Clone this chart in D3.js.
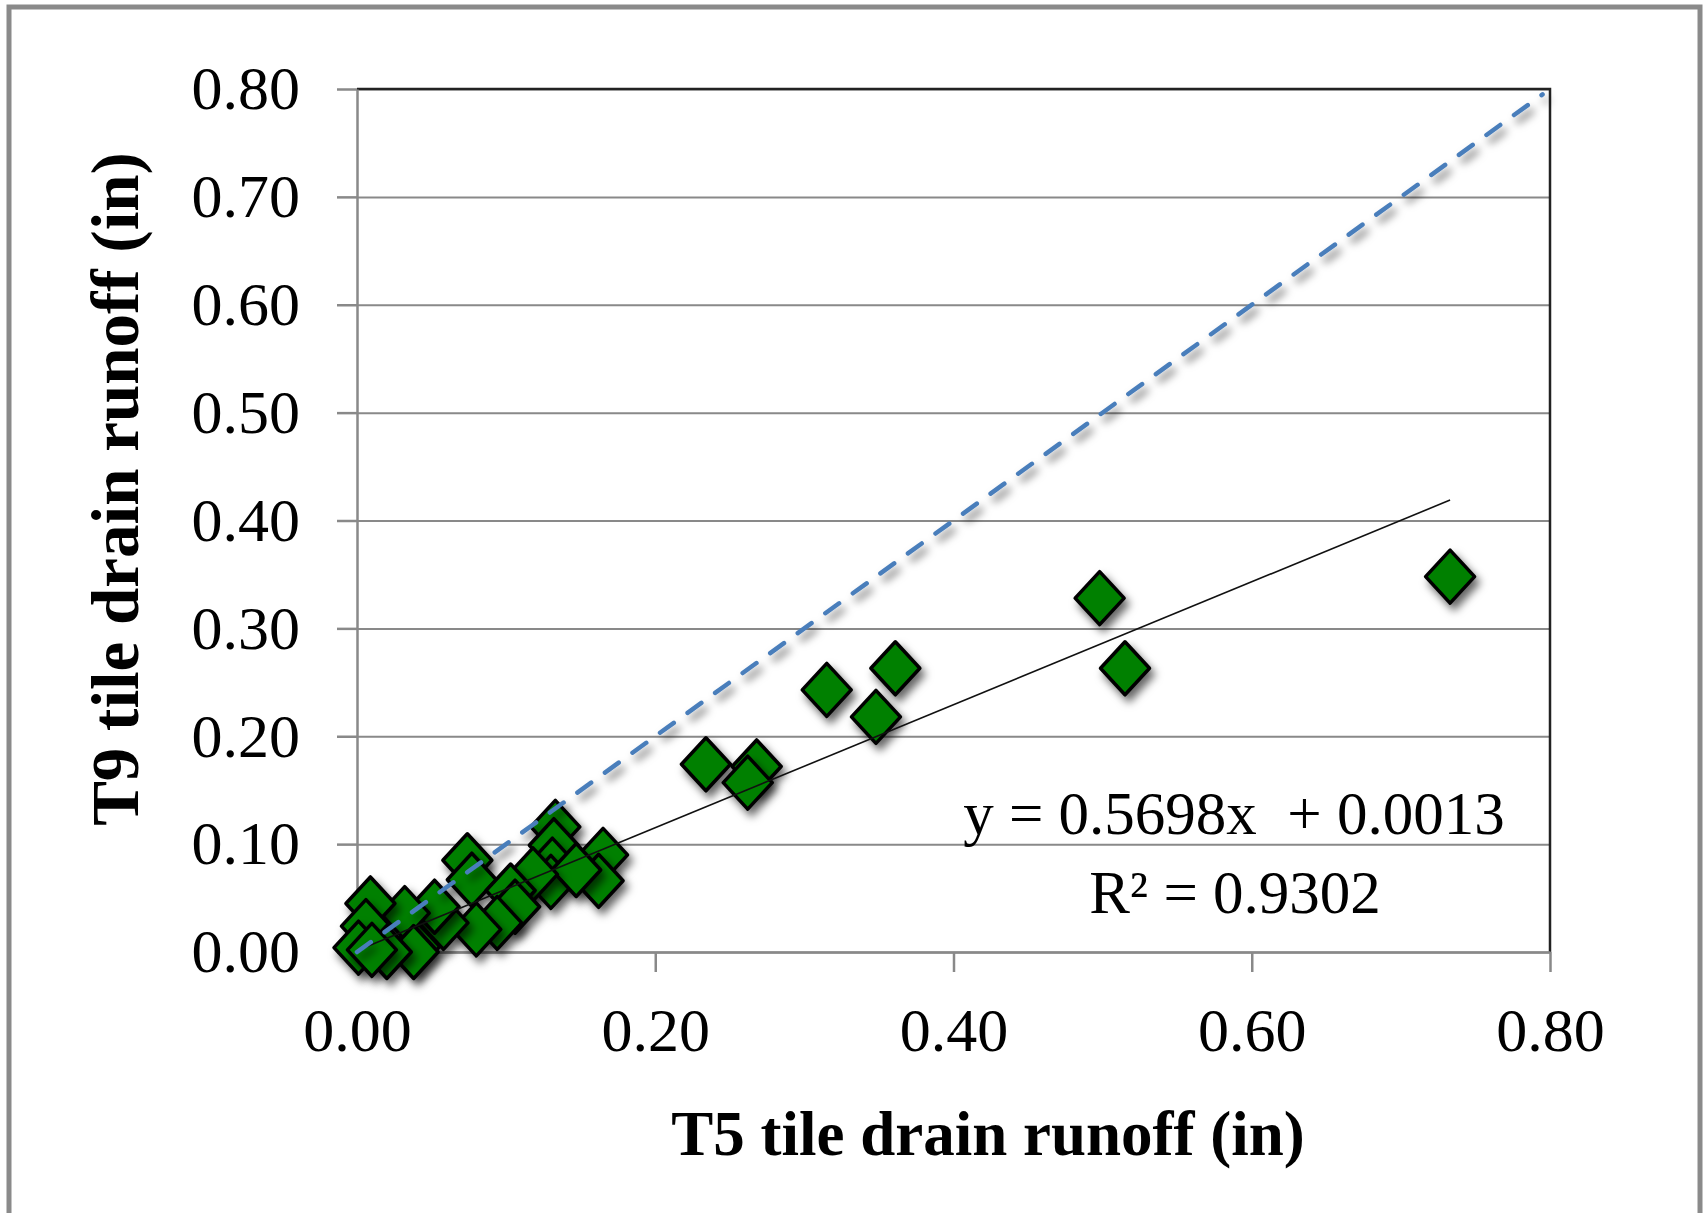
<!DOCTYPE html>
<html>
<head>
<meta charset="utf-8">
<script src="https://cdn.jsdelivr.net/npm/d3@7"></script>
<style>
  body { margin: 0; background: #fff; }
  text { font-family: "Liberation Serif", "Times New Roman", serif; }
</style>
</head>
<body>
<script>

    // T5 vs T9 tile drain runoff (in)
    var t5 = [0.733, 0.498, 0.515, 0.361, 0.315, 0.348, 0.234, 0.268, 0.262,
              0.133, 0.132, 0.131, 0.130, 0.165, 0.162, 0.147, 0.118,
              0.074, 0.077, 0.103, 0.106, 0.094, 0.080, 0.058, 0.052,
              0.039, 0.032, 0.009, 0.006, 0.001, 0.038, 0.020, 0.010];
    var t9 = [0.348, 0.328, 0.263, 0.263, 0.243, 0.218, 0.174, 0.172, 0.157,
              0.116, 0.099, 0.081, 0.065, 0.090, 0.066, 0.076, 0.072,
              0.085, 0.067, 0.057, 0.042, 0.027, 0.021, 0.027, 0.042,
              0.005, 0.036, 0.045, 0.024, 0.004, 0.000, 0.000, 0.002];

    var yTicks = [0, 0.1, 0.2, 0.3, 0.4, 0.5, 0.6, 0.7, 0.8];
    var xTicks = [0, 0.2, 0.4, 0.6, 0.8];

    // 1:1 line and linear fit
    var oneToOne = [0, 0.795];
    var slope = 0.5698, intercept = 0.0013, rSquared = 0.9302;

    var margin = {top: 89, right: 153, bottom: 261, left: 357};

    var width = 1703 - margin.left - margin.right,
        height = 1213 - margin.top - margin.bottom;

    var root = d3.select("body")
    .append("svg")
    .attr("width", 1703)
    .attr("height", 1213);

    // chart frame
    root.append("rect")
    .attr("x", 9)
    .attr("y", 7)
    .attr("width", 1691)
    .attr("height", 1260)
    .attr("fill", "#fff")
    .attr("stroke", "#8a8a8a")
    .attr("stroke-width", 5);

    var defs = root.append("defs");
    var shadow = defs.append("filter")
    .attr("id", "shadow")
    .attr("x", "-50%").attr("y", "-50%")
    .attr("width", "200%").attr("height", "200%");
    shadow.append("feDropShadow")
    .attr("dx", 4)
    .attr("dy", 6)
    .attr("stdDeviation", 4)
    .attr("flood-color", "#000")
    .attr("flood-opacity", 0.6);

    var svg = root.append("g")
    .attr("transform", "translate(" + margin.left + "," + margin.top + ")");

    var x = d3.scaleLinear().domain([0, 0.8]).range([0, width]);
    var y = d3.scaleLinear().domain([0, 0.8]).range([height, 0]);

    // horizontal gridlines
    svg.append("g")
    .attr("class", "grid")
    .call(d3.axisLeft(y).tickValues(yTicks).tickSize(-width).tickFormat(""))
    .call(function(g) { g.select(".domain").remove(); })
    .selectAll("line")
    .attr("stroke", "#898989")
    .attr("stroke-width", 2);

    // plot area border (top and right)
    svg.append("path")
    .attr("d", "M0,0H" + width + "V" + height)
    .attr("fill", "none")
    .attr("stroke", "#222")
    .attr("stroke-width", 2.5);

    // axes
    var yAxis = d3.axisLeft(y)
    .tickValues(yTicks)
    .tickSize(20)
    .tickSizeOuter(0)
    .tickPadding(37)
    .tickFormat(d3.format(".2f"));

    var xAxis = d3.axisBottom(x)
    .tickValues(xTicks)
    .tickSize(20)
    .tickSizeOuter(0)
    .tickPadding(35)
    .tickFormat(d3.format(".2f"));

    svg.append("g")
    .attr("class", "y axis")
    .call(yAxis);

    svg.append("g")
    .attr("class", "x axis")
    .attr("transform", "translate(0," + height + ")")
    .call(xAxis);

    svg.selectAll(".axis path, .axis line")
    .attr("stroke", "#898989")
    .attr("stroke-width", 2.5);

    svg.selectAll(".axis text")
    .attr("font-family", "Liberation Serif, Times New Roman, serif")
    .attr("font-size", 62)
    .attr("fill", "#000");

    // diamond markers
    var pts = t5.map(function(d, i) { return {x: d, y: t9[i]}; });
    var hw = 24.5, hh = 26.5;

    svg.selectAll("path.pt")
    .data(pts)
    .enter().append("path")
    .attr("class", "pt")
    .attr("d", "M0," + (-hh) + "L" + hw + ",0L0," + hh + "L" + (-hw) + ",0Z")
    .attr("transform", function(d) { return "translate(" + x(d.x) + "," + y(d.y) + ")"; })
    .attr("fill", "#008000")
    .attr("stroke", "#000")
    .attr("stroke-width", 3.5)
    .attr("stroke-linejoin", "round")
    .attr("filter", "url(#shadow)");

    // linear trendline over the data range
    var line = d3.line()
    .x(function(d) { return x(d); })
    .y(function(d) { return y(slope * d + intercept); });

    svg.append("path")
    .datum(d3.extent(t5))
    .attr("d", line)
    .attr("fill", "none")
    .attr("stroke", "#111")
    .attr("stroke-width", 1.6);

    // 1:1 line
    svg.append("path")
    .datum(oneToOne)
    .attr("d", d3.line().x(function(d) { return x(d); }).y(function(d) { return y(d); }))
    .attr("fill", "none")
    .attr("stroke", "#4a7ebb")
    .attr("stroke-width", 4.5)
    .attr("stroke-dasharray", "17,17")
    .attr("stroke-linecap", "round")
    .attr("filter", "url(#shadow)");

    // equation
    var eq = svg.append("g")
    .attr("font-size", 61)
    .attr("text-anchor", "middle")
    .attr("fill", "#000");

    eq.append("text")
    .attr("x", 877)
    .attr("y", 745)
    .style("white-space", "pre")
    .text("y = " + slope.toFixed(4) + "x  + " + intercept.toFixed(4));

    eq.append("text")
    .attr("x", 878)
    .attr("y", 824)
    .text("R\u00b2 = " + rSquared.toFixed(4));

    // axis titles
    root.append("text")
    .attr("x", 988)
    .attr("y", 1155)
    .attr("text-anchor", "middle")
    .attr("font-size", 63)
    .attr("font-weight", "bold")
    .text("T5 tile drain runoff (in)");

    root.append("text")
    .attr("transform", "translate(138,489) rotate(-90)")
    .attr("text-anchor", "middle")
    .attr("font-size", 67)
    .attr("font-weight", "bold")
    .text("T9 tile drain runoff (in)");

</script>
</body>
</html>
